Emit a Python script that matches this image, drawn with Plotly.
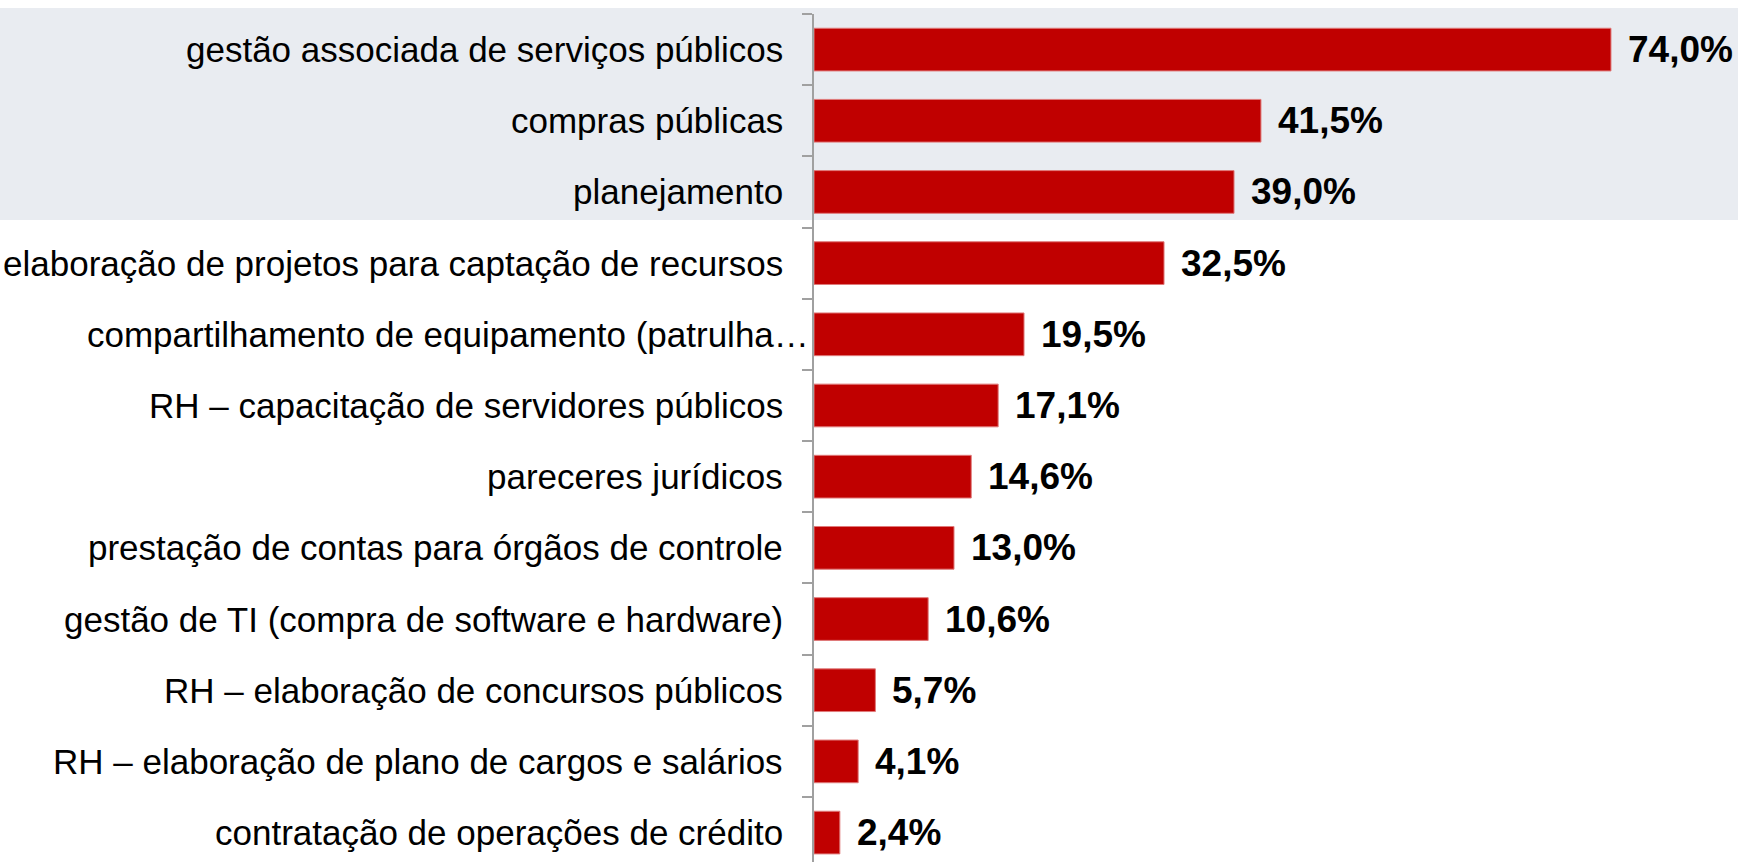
import plotly.graph_objects as go

categories = [
    "gestão associada de serviços públicos",
    "compras públicas",
    "planejamento",
    "elaboração de projetos para captação de recursos",
    "compartilhamento de equipamento (patrulha…",
    "RH – capacitação de servidores públicos",
    "pareceres jurídicos",
    "prestação de contas para órgãos de controle",
    "gestão de TI (compra de software e hardware)",
    "RH – elaboração de concursos públicos",
    "RH – elaboração de plano de cargos e salários",
    "contratação de operações de crédito",
]
values = [74.0, 41.5, 39.0, 32.5, 19.5, 17.1, 14.6, 13.0, 10.6, 5.7, 4.1, 2.4]
value_labels = [f"{v:.1f}".replace(".", ",") + "%" for v in values]

W, H = 1738, 862
ML, MT = 814, 14
PW, PH = W - ML, H - MT

fig = go.Figure()
fig.add_trace(go.Bar(
    x=values, y=categories, orientation="h", width=0.6,
    marker=dict(color="#c00000", line=dict(color="#e07a7a", width=1)),
    hoverinfo="skip", showlegend=False,
))

annotations = []
for cat, v, lab in zip(categories, values, value_labels):
    annotations.append(dict(
        x=v, y=cat, xref="x", yref="y", text=lab, showarrow=False,
        xanchor="left", yanchor="middle", xshift=15,
        font=dict(family="Liberation Sans, Arial, sans-serif", size=37, color="black", weight="bold"),
    ))
    truncated = cat.endswith("…")
    annotations.append(dict(
        x=0, y=cat, xref="x", yref="y", text=cat, showarrow=False,
        xanchor="right", yanchor="middle", xshift=-3 if truncated else -29,
        font=dict(family="Liberation Sans, Arial, sans-serif", size=35, color="black"),
    ))

# shaded highlight band behind the first three rows
fig.add_shape(
    type="rect", xref="paper", yref="paper",
    x0=-ML / PW, x1=1.0,
    y0=1 - (220 - MT) / PH, y1=1 + (MT - 8) / PH,
    fillcolor="#e9ecf1", line=dict(width=0), layer="below",
)

fig.update_layout(
    width=W, height=H,
    margin=dict(l=ML, r=0, t=MT, b=0, pad=0),
    paper_bgcolor="white", plot_bgcolor="rgba(0,0,0,0)",
    annotations=annotations,
    bargap=0.4,
)
fig.update_xaxes(visible=False, range=[0, PW / 10.77], fixedrange=True)
fig.update_yaxes(
    type="category", range=[-0.5 + PH / 71.18, -0.5], fixedrange=True,
    showticklabels=False, showgrid=False, zeroline=False,
    showline=True, linecolor="#a0a0a0", linewidth=2,
    ticks="outside", tickson="boundaries", ticklen=10, tickcolor="#a0a0a0", tickwidth=2,
)

fig.write_html(
    "out.html",
    config={"displayModeBar": False},
    post_script="document.body.style.margin='0';document.body.style.overflow='hidden';",
)
